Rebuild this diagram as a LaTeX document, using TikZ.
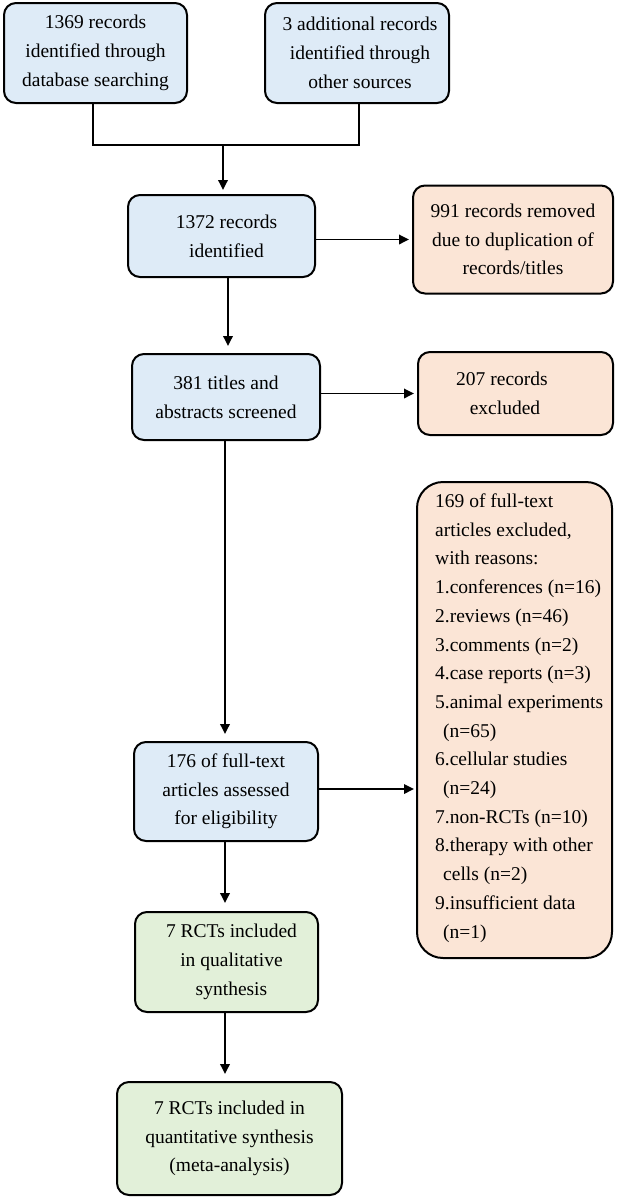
\documentclass[tikz,border=0pt]{standalone}
\usepackage{fontspec}
\setmainfont{Liberation Serif}
\usetikzlibrary{arrows.meta}
\definecolor{bluefill}{HTML}{DEEBF7}
\definecolor{orangefill}{HTML}{FBE5D6}
\definecolor{greenfill}{HTML}{E2F0D9}
\tikzset{
  box/.style={draw, line width=2pt, rounded corners=12pt, align=center,
    font=\fontsize{19.5}{28.7}\selectfont, inner sep=0pt},
  bluebox/.style={box, fill=bluefill},
  orangebox/.style={box, fill=orangefill},
  greenbox/.style={box, fill=greenfill},
  txt/.style={font=\fontsize{19.5}{28.7}\selectfont, inner sep=0pt},
  conn/.style={line width=1.8pt},
  arr/.style={line width=1.8pt, -{Triangle[length=10pt,width=9.5pt]}}
}
\begin{document}
\begin{tikzpicture}[x=1pt,y=-1pt]
\useasboundingbox (0,0) rectangle (619,1200);
\node[bluebox, minimum width=183pt, minimum height=100pt] (A) at (95.5,53)
  {1369 records\\identified through\\database searching};
\node[bluebox, minimum width=184pt, minimum height=100pt] (B) at (357,53)
  {\hspace*{6pt}3 additional records\\\hspace*{6pt}identified through\\\hspace*{6pt}other sources};
\node[bluebox, minimum width=187pt, minimum height=82pt] (C) at (221.5,236)
  {\hspace*{10pt}1372 records\\\hspace*{10pt}identified};
\node[orangebox, minimum width=200pt, minimum height=108pt] (D) at (513,239.5)
  {991 records removed\\due to duplication of\\records/titles};
\node[bluebox, minimum width=188pt, minimum height=86pt] (E) at (226,397)
  {381 titles and\\abstracts screened};
\node[orangebox, minimum width=195pt, minimum height=83pt] (F) at (515.5,393.5) {};
\node[txt, align=center] (Ft) at (502,393.5) {207 records\\\hspace*{6pt}excluded};
\node[orangebox, rounded corners=26pt, minimum width=195pt, minimum height=476pt] (G) at (514.5,720) {};
\node[txt, align=left, anchor=west] (Gt) at (435,718)
  {169 of full-text\\articles excluded,\\with reasons:\\1.conferences (n=16)\\2.reviews (n=46)\\3.comments (n=2)\\4.case reports (n=3)\\5.animal experiments\\\hspace*{8pt}(n=65)\\6.cellular studies\\\hspace*{8pt}(n=24)\\7.non-RCTs (n=10)\\8.therapy with other\\\hspace*{8pt}cells (n=2)\\9.insufficient data\\\hspace*{8pt}(n=1)};
\node[bluebox, minimum width=184pt, minimum height=99pt] (H) at (226,791.5)
  {176 of full-text\\articles assessed\\for eligibility};
\node[greenbox, minimum width=183pt, minimum height=100pt] (I) at (226.5,962)
  {\hspace*{10pt}7 RCTs included\\\hspace*{10pt}in qualitative\\\hspace*{10pt}synthesis};
\node[greenbox, minimum width=225pt, minimum height=113pt] (J) at (229.5,1138.5)
  {7 RCTs included in\\quantitative synthesis\\(meta-analysis)};
\coordinate (join) at (223,145);
\draw[conn] ([xshift=-2.5pt]A.south) |- (join) -| ([xshift=2pt]B.south);
\draw[arr, shorten >=4pt] (join) -- (join |- C.north);
\draw[arr, shorten >=3pt] (C.east |- D.west) -- (D.west);
\draw[arr, shorten >=7pt] ([xshift=6.5pt]C.south) -- ([xshift=6.5pt]C.south |- E.north);
\draw[arr, shorten >=3pt] (E.east |- F.west) -- (F.west);
\draw[arr, shorten >=7pt] ([xshift=-1pt]E.south) -- ([xshift=-1pt]E.south |- H.north);
\draw[arr, shorten >=2pt] ([yshift=2.5pt]H.east) -- ([yshift=2.5pt]H.east -| G.west);
\draw[arr, shorten >=8pt] ([xshift=-1pt]H.south) -- ([xshift=-1pt]H.south |- I.north);
\draw[arr, shorten >=7pt] ([xshift=-1.5pt]I.south) -- ([xshift=-1.5pt]I.south |- J.north);
\end{tikzpicture}
\end{document}
